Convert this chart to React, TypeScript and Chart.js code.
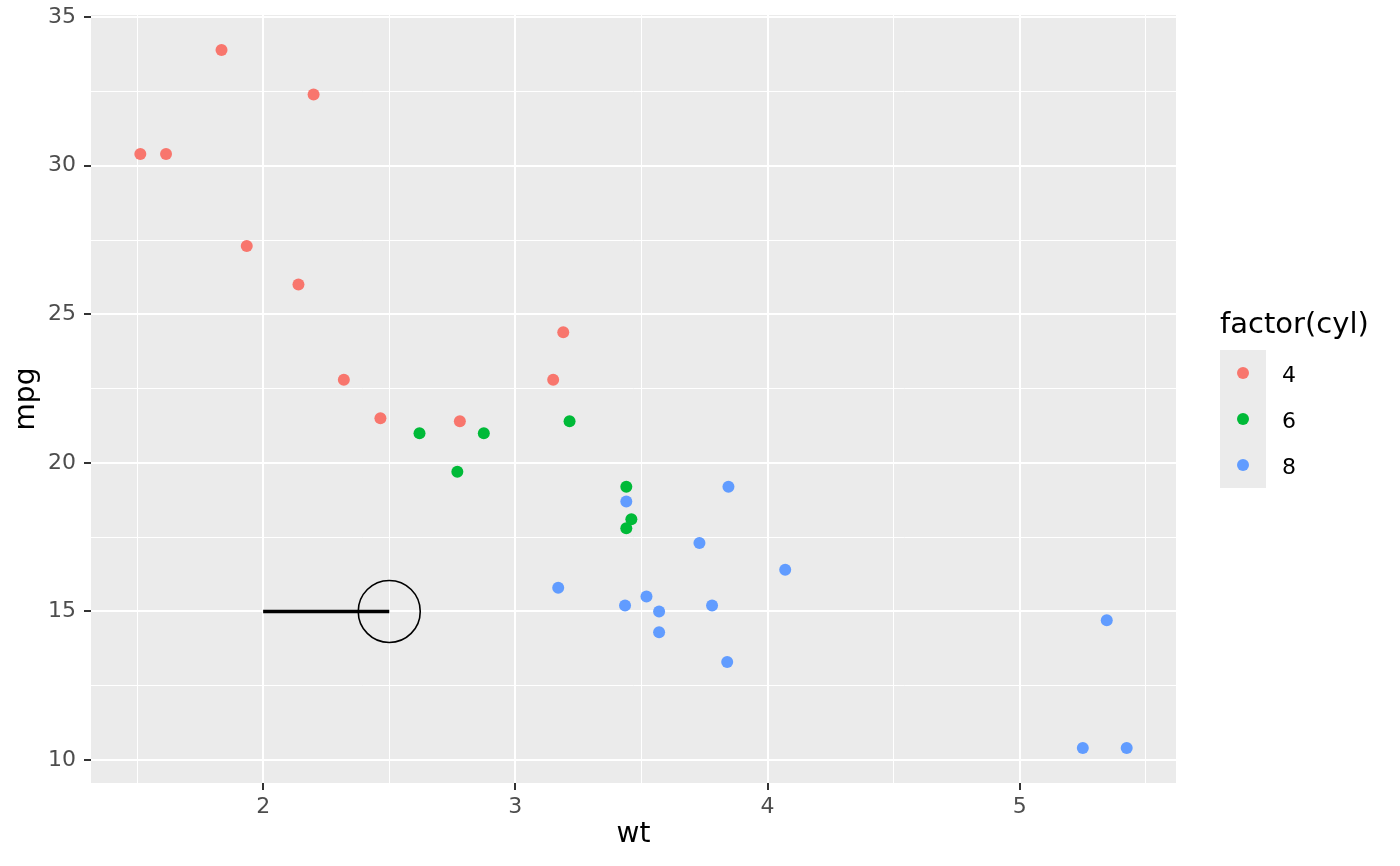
import React, { useEffect, useRef } from "react";
import { Chart, registerables } from "chart.js";

Chart.register(...registerables);

// mtcars: wt vs mpg by cylinder count
const wt4 = [2.32, 3.19, 3.15, 2.2, 1.615, 1.835, 2.465, 1.935, 2.14, 1.513, 2.78];
const mpg4 = [22.8, 24.4, 22.8, 32.4, 30.4, 33.9, 21.5, 27.3, 26.0, 30.4, 21.4];
const wt6 = [2.62, 2.875, 3.215, 3.46, 3.44, 3.44, 2.77];
const mpg6 = [21.0, 21.0, 21.4, 18.1, 19.2, 17.8, 19.7];
const wt8 = [3.44, 3.57, 4.07, 3.73, 3.78, 5.25, 5.424, 5.345, 3.52, 3.435, 3.84, 3.845, 3.17, 3.57];
const mpg8 = [18.7, 14.3, 16.4, 17.3, 15.2, 10.4, 10.4, 14.7, 15.5, 15.2, 13.3, 19.2, 15.8, 15.0];

const segX = [2, 2.5];
const segY = [15, 15];
const circleX = [2.5];
const circleY = [15];

const cylLabels = ["4", "6", "8"];
const cylColors = ["#F8766D", "#00BA38", "#619CFF"];

const xTicks = [1.5, 2, 2.5, 3, 3.5, 4, 4.5, 5, 5.5];
const yTicks = [10, 12.5, 15, 17.5, 20, 22.5, 25, 27.5, 30, 32.5, 35];
const xMajor = [2, 3, 4, 5];
const yMajor = [10, 15, 20, 25, 30, 35];

const xTitle = "wt";
const yTitle = "mpg";
const legendTitle = "factor(cyl)";

const FONT = "'DejaVu Sans', sans-serif";

const zip = (xs: number[], ys: number[]) => xs.map((x, i) => ({ x, y: ys[i] }));

function expand(vals: number[]) {
  const lo = Math.min(...vals);
  const hi = Math.max(...vals);
  const d = (hi - lo) * 0.05;
  return [lo - d, hi + d];
}

export default function App() {
  const ref = useRef<HTMLCanvasElement | null>(null);

  useEffect(() => {
    document.body.style.margin = "0";
    const canvas = ref.current;
    if (!canvas) return;

    const allX = [...wt4, ...wt6, ...wt8, ...segX, ...circleX];
    const allY = [...mpg4, ...mpg6, ...mpg8, ...segY, ...circleY];
    const [xMin, xMax] = expand(allX);
    const [yMin, yMax] = expand(allY);

    const panelBg = {
      id: "panelBg",
      beforeDraw(chart: any) {
        const { ctx, chartArea } = chart;
        ctx.save();
        ctx.fillStyle = "#EBEBEB";
        ctx.fillRect(chartArea.left, chartArea.top, chartArea.right - chartArea.left, chartArea.bottom - chartArea.top);
        ctx.restore();
      },
    };

    const legendPlugin = {
      id: "ggLegend",
      afterDraw(chart: any) {
        const { ctx, chartArea } = chart;
        const left = chartArea.right + 44;
        const boxTop = 350;
        const keyH = 46;
        const keyW = 46;
        ctx.save();
        ctx.fillStyle = "#000";
        ctx.font = `29px ${FONT}`;
        ctx.textAlign = "left";
        ctx.textBaseline = "alphabetic";
        ctx.fillText(legendTitle, left, 333);
        ctx.fillStyle = "#EBEBEB";
        ctx.fillRect(left, boxTop, keyW, keyH * cylLabels.length);
        cylLabels.forEach((lab, i) => {
          const cy = boxTop + keyH * i + keyH / 2;
          ctx.beginPath();
          ctx.fillStyle = cylColors[i];
          ctx.arc(left + keyW / 2, cy, 6, 0, Math.PI * 2);
          ctx.fill();
          ctx.fillStyle = "#000";
          ctx.font = `22px ${FONT}`;
          ctx.fillText(lab, left + 62, cy + 9);
        });
        ctx.restore();
      },
    };

    const ptDs = (label: string, xs: number[], ys: number[], color: string) => ({
      type: "scatter" as const,
      label,
      data: zip(xs, ys),
      pointRadius: 6,
      pointBackgroundColor: color,
      pointBorderColor: color,
      pointBorderWidth: 0,
      order: 2,
    });

    const chart = new Chart(canvas, {
      type: "scatter",
      data: {
        datasets: [
          ptDs(cylLabels[0], wt4, mpg4, cylColors[0]),
          ptDs(cylLabels[1], wt6, mpg6, cylColors[1]),
          ptDs(cylLabels[2], wt8, mpg8, cylColors[2]),
          {
            type: "line" as const,
            label: "segment",
            data: zip(segX, segY),
            borderColor: "#000",
            borderWidth: 3.5,
            borderCapStyle: "butt",
            pointRadius: 0,
            showLine: true,
            order: 1,
          } as any,
          {
            type: "scatter" as const,
            label: "circle",
            data: zip(circleX, circleY),
            pointRadius: 31,
            pointBackgroundColor: "rgba(0,0,0,0)",
            pointBorderColor: "#000",
            pointBorderWidth: 1.6,
            order: 0,
          },
        ],
      },
      options: {
        animation: false,
        responsive: false,
        devicePixelRatio: 1,
        layout: { autoPadding: false, padding: { top: 15, right: 224, left: 0, bottom: 0 } },
        plugins: { legend: { display: false }, tooltip: { enabled: false } },
        scales: {
          x: {
            type: "linear",
            min: xMin,
            max: xMax,
            afterBuildTicks: (s: any) => {
              s.ticks = xTicks.map((v) => ({ value: v }));
            },
            afterFit: (s: any) => {
              s.height = 83;
              s.paddingLeft = 0;
              s.paddingRight = 0;
            },
            border: { display: false },
            grid: {
              color: "#FFFFFF",
              lineWidth: (c: any) => (c.tick && xMajor.includes(c.tick.value) ? 2 : 1),
              tickColor: (c: any) => (c.tick && xMajor.includes(c.tick.value) ? "#333333" : "rgba(0,0,0,0)"),
              tickWidth: 2,
              tickLength: 7,
            },
            ticks: {
              autoSkip: false,
              maxRotation: 0,
              padding: 4,
              color: "#4D4D4D",
              font: { family: FONT, size: 22 },
              callback: (v: any) => (xMajor.includes(Number(v)) ? String(v) : ""),
            },
            title: {
              display: true,
              text: xTitle,
              color: "#000",
              font: { family: FONT, size: 28 },
              padding: { top: 0, bottom: 14 },
            },
          },
          y: {
            type: "linear",
            min: yMin,
            max: yMax,
            afterBuildTicks: (s: any) => {
              s.ticks = yTicks.map((v) => ({ value: v }));
            },
            afterFit: (s: any) => {
              s.width = 91;
              s.paddingTop = 0;
              s.paddingBottom = 0;
            },
            border: { display: false },
            grid: {
              color: "#FFFFFF",
              lineWidth: (c: any) => (c.tick && yMajor.includes(c.tick.value) ? 2 : 1),
              tickColor: (c: any) => (c.tick && yMajor.includes(c.tick.value) ? "#333333" : "rgba(0,0,0,0)"),
              tickWidth: 2,
              tickLength: 7,
            },
            ticks: {
              autoSkip: false,
              padding: 8,
              color: "#4D4D4D",
              font: { family: FONT, size: 22 },
              callback: (v: any) => (yMajor.includes(Number(v)) ? String(v) : ""),
            },
            title: {
              display: true,
              text: yTitle,
              color: "#000",
              font: { family: FONT, size: 28 },
              padding: { top: 10, bottom: 0 },
            },
          },
        },
      },
      plugins: [panelBg, legendPlugin],
    } as any);

    return () => chart.destroy();
  }, []);

  return (
    <div style={{ position: "absolute", left: 0, top: 0, width: 1400, height: 866, background: "#fff" }}>
      <canvas ref={ref} width={1400} height={866} style={{ display: "block", width: 1400, height: 866 }} />
    </div>
  );
}
